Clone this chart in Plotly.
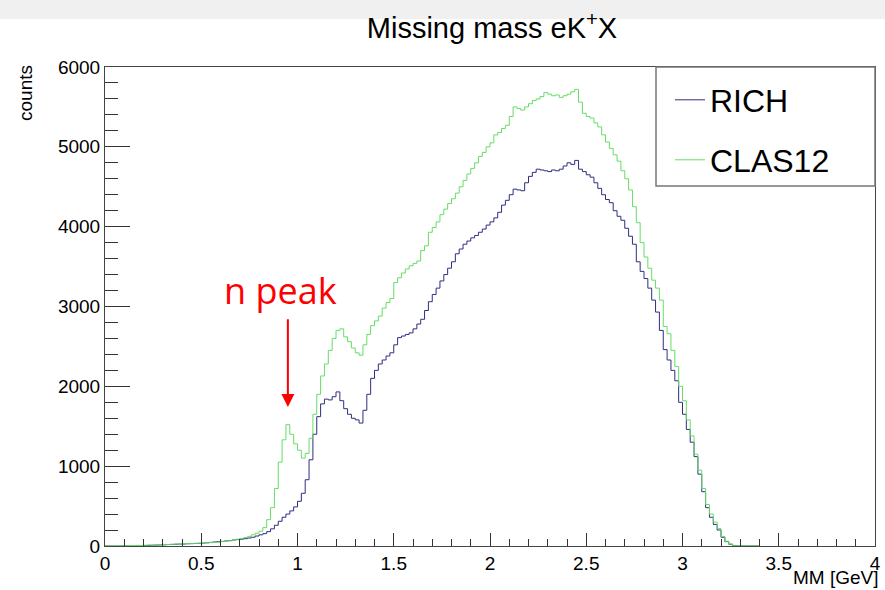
import plotly.graph_objects as go

# ---------------- data (bin width 0.02 GeV, values per bin, left edges start at 0) ----------------
bin_width = 0.02
bin_start = 0.0

clas12_counts = [
    0, 0, 0, 0, 0, 3, 5, 5, 8, 6,                      # 0.00 - 0.18
    10, 12, 10, 15, 14, 20, 18, 22, 25, 24,            # 0.20 - 0.38
    28, 30, 30, 33, 35, 38, 40, 42, 45, 48,            # 0.40 - 0.58
    55, 60, 65, 75, 85, 95, 105, 120, 140, 160,        # 0.60 - 0.78
    185, 230, 330, 480, 720, 1050, 1330, 1520, 1400, 1280,   # 0.80 - 0.98
    1200, 1100, 1160, 1350, 1650, 1900, 2130, 2280, 2450, 2600,  # 1.00 - 1.18
    2700, 2720, 2620, 2560, 2480, 2420, 2390, 2520, 2650, 2760,  # 1.20 - 1.38
    2820, 2880, 2980, 3050, 3100, 3300, 3360, 3420, 3470, 3510,  # 1.40 - 1.58
    3540, 3570, 3700, 3760, 3930, 3990, 4060, 4150, 4220, 4290,  # 1.60 - 1.78
    4350, 4420, 4500, 4580, 4660, 4730, 4800, 4880, 4930, 5000,  # 1.80 - 1.98
    5050, 5150, 5180, 5230, 5270, 5380, 5500, 5480, 5460, 5500,  # 2.00 - 2.18
    5540, 5580, 5600, 5630, 5680, 5660, 5640, 5650, 5620, 5640,  # 2.20 - 2.38
    5660, 5690, 5720, 5560, 5420, 5380, 5360, 5300, 5250, 5150,  # 2.40 - 2.58
    5060, 4980, 4900, 4820, 4700, 4600, 4460, 4250, 4050, 3800,  # 2.60 - 2.78
    3620, 3480, 3330, 3230, 3080, 2750, 2660, 2450, 2250, 2000,  # 2.80 - 2.98
    1820, 1580, 1380, 1150, 950, 720, 520, 400, 300, 220,        # 3.00 - 3.18
    120, 60, 25, 8, 2, 0, 0, 0, 0, 0,                            # 3.20 - 3.38
]

rich_counts = [
    0, 0, 0, 0, 0, 0, 0, 0, 0, 2,                      # 0.00 - 0.18
    5, 8, 10, 12, 14, 15, 18, 20, 22, 24,              # 0.20 - 0.38
    25, 28, 30, 32, 33, 36, 40, 45, 50, 54,            # 0.40 - 0.58
    58, 63, 68, 75, 80, 85, 92, 100, 110, 125,         # 0.60 - 0.78
    140, 155, 180, 215, 260, 310, 360, 400, 440, 490,  # 0.80 - 0.98
    560, 660, 830, 1080, 1400, 1620, 1780, 1840, 1830, 1870,     # 1.00 - 1.18
    1930, 1820, 1720, 1650, 1600, 1580, 1540, 1700, 1900, 2100,  # 1.20 - 1.38
    2200, 2280, 2330, 2380, 2420, 2520, 2610, 2630, 2650, 2670,  # 1.40 - 1.58
    2720, 2780, 2840, 2950, 3060, 3150, 3230, 3320, 3400, 3480,  # 1.60 - 1.78
    3560, 3660, 3720, 3780, 3820, 3860, 3890, 3930, 3970, 4020,  # 1.80 - 1.98
    4060, 4110, 4180, 4270, 4330, 4400, 4470, 4460, 4450, 4550,  # 2.00 - 2.18
    4630, 4680, 4720, 4710, 4700, 4690, 4710, 4700, 4720, 4760,  # 2.20 - 2.38
    4800, 4780, 4830, 4720, 4690, 4650, 4620, 4550, 4480, 4400,  # 2.40 - 2.58
    4340, 4300, 4200, 4130, 4080, 3980, 3880, 3780, 3560, 3440,  # 2.60 - 2.78
    3350, 3230, 3080, 2930, 2700, 2460, 2330, 2200, 2070, 1800,  # 2.80 - 2.98
    1650, 1460, 1300, 1120, 900, 680, 480, 360, 270, 200,        # 3.00 - 3.18
    110, 55, 22, 6, 1, 0, 0, 0, 0, 0,                            # 3.20 - 3.38
]

x_tick_vals = [0, 0.5, 1, 1.5, 2, 2.5, 3, 3.5, 4]
x_tick_text = ["0", "0.5", "1", "1.5", "2", "2.5", "3", "3.5", "4"]
y_tick_vals = [0, 1000, 2000, 3000, 4000, 5000, 6000]
y_tick_text = ["0", "1000", "2000", "3000", "4000", "5000", "6000"]

series_names = ["RICH", "CLAS12"]
series_colors = ["#2e2e80", "#66dd66"]

# annotation: n peak arrow (tip / tail in data coordinates)
peak_label = "n peak"
peak_x = 0.95
peak_tip_y = 1740
peak_tail_y = 2860
peak_text_y = 3200
peak_text_x = 0.91

# ---------------- build figure ----------------
def step_xy(counts):
    n = len(counts)
    xs = [round(bin_start + i * bin_width, 4) for i in range(n + 1)]
    ys = list(counts) + [counts[-1]]
    return xs, ys

FONT = "Liberation Sans, Arial, Helvetica, sans-serif"

fig = go.Figure()
for name, counts, color, leg in zip(series_names, [rich_counts, clas12_counts],
                                    series_colors, ["legend", "legend2"]):
    xs, ys = step_xy(counts)
    fig.add_trace(go.Scatter(x=xs, y=ys, mode="lines", name=name,
                             line=dict(color=color, width=1, shape="hv"),
                             legend=leg))

W, H = 885, 590
L, R, T, B = 105, 10, 67, 44
pw, ph = W - L - R, H - T - B

def px_x(px):
    return (px - L) / pw

def px_y(py):
    return (H - B - py) / ph

axis_common = dict(showgrid=False, zeroline=False, showline=True, linecolor="#444",
                   linewidth=1, mirror=True, ticks="inside", tickcolor="#333",
                   tickwidth=1, automargin=False,
                   tickfont=dict(family=FONT, size=19, color="black"))

fig.update_xaxes(range=[0, 4], tickvals=x_tick_vals, ticktext=x_tick_text, ticklen=13,
                 minor=dict(ticks="inside", dtick=0.1, ticklen=7, tickcolor="#333"),
                 **axis_common)
fig.update_yaxes(range=[0, 6000], tickvals=y_tick_vals, ticktext=y_tick_text, ticklen=25,
                 minor=dict(ticks="inside", dtick=200, ticklen=13, tickcolor="#333"),
                 **axis_common)

legend_common = dict(font=dict(family=FONT, size=32, color="black"),
                     bgcolor="rgba(0,0,0,0)", borderwidth=0,
                     xanchor="left", yanchor="middle", x=px_x(670))

fig.update_layout(
    width=W, height=H,
    margin=dict(l=L, r=R, t=T, b=B, autoexpand=False),
    paper_bgcolor="white", plot_bgcolor="white",
    showlegend=True,
    legend=dict(y=px_y(100), **legend_common),
    legend2=dict(y=px_y(160), **legend_common),
    title=dict(text="Missing mass eK<sup>+</sup>X", x=492 / W, xanchor="center",
               y=1 - 28 / H, yanchor="middle", xref="container", yref="container",
               font=dict(family=FONT, size=29, color="black")),
    shapes=[
        # grey strip at the top of the picture
        dict(type="rect", xref="paper", yref="paper", x0=px_x(0), x1=px_x(W),
             y0=px_y(19), y1=px_y(0), fillcolor="#f0f0f0", line=dict(width=0),
             layer="below"),
        # legend box
        dict(type="rect", xref="paper", yref="paper", x0=px_x(656), x1=1,
             y0=px_y(186), y1=1, fillcolor="white", line=dict(color="#777", width=1.5),
             layer="above"),
    ],
    annotations=[
        dict(text="counts", textangle=-90, xref="paper", yref="paper",
             x=px_x(25), y=px_y(93), xanchor="center", yanchor="middle",
             showarrow=False, font=dict(family=FONT, size=19, color="black")),
        dict(text="MM [GeV]", xref="paper", yref="paper",
             x=px_x(881), y=px_y(590), xanchor="right", yanchor="bottom",
             showarrow=False, font=dict(family=FONT, size=19, color="black")),
        dict(text=peak_label, x=peak_text_x, y=peak_text_y, xref="x", yref="y",
             showarrow=False, xanchor="center", yanchor="middle",
             font=dict(family="Open Sans, Noto Sans, sans-serif", size=36, color="#ff0000")),
        dict(text="", x=peak_x, y=peak_tip_y, ax=peak_x, ay=peak_tail_y,
             xref="x", yref="y", axref="x", ayref="y", showarrow=True,
             arrowhead=2, arrowsize=1.3, arrowwidth=2, arrowcolor="#ff0000"),
    ],
)

fig.write_html("out.html")
